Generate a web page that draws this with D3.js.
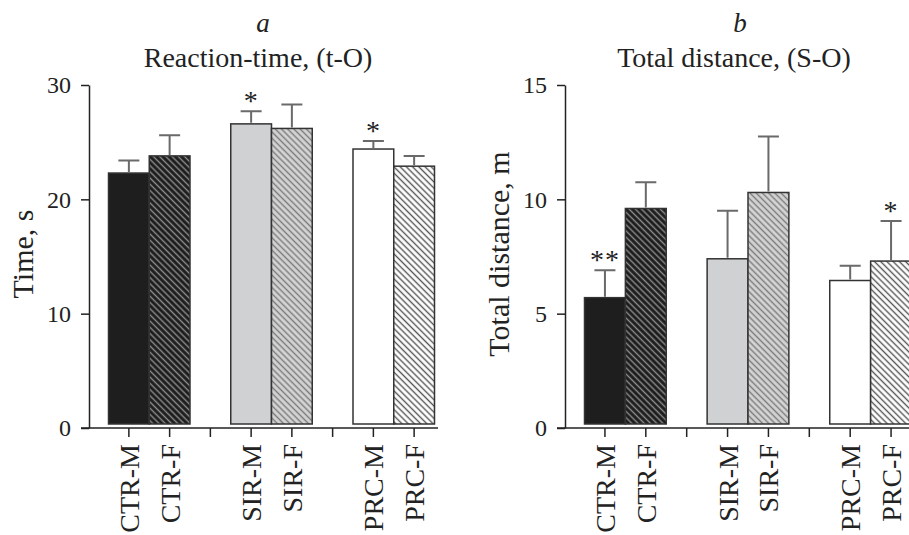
<!DOCTYPE html>
<html lang="en">
    <head>
        <meta charset="utf-8">
        <title>Reaction time and total distance</title>
        <script src="https://d3js.org/d3.v7.min.js"></script>
        <style type="text/css">
          body {
            margin: 0;
            background: #fff;
          }
          svg {
            display: block;
            font-family: "Liberation Serif", "Times New Roman", serif;
            fill: #222;
          }
          .axis-line {
            stroke: #222;
            stroke-width: 1.5;
            fill: none;
          }
          .bar {
            stroke: #333;
            stroke-width: 1.5;
          }
          .err {
            stroke: #6a6a6a;
            stroke-width: 2;
            fill: none;
          }
        </style>
    </head>
    <body>
        <script type="text/javascript">

         // groups along each x axis; the blank slots are the gaps between groups
         var slots = ["CTR-M", "CTR-F", "gap1", "SIR-M", "SIR-F", "gap2", "PRC-M", "PRC-F"];
         var groups = ["CTR-M", "CTR-F", "SIR-M", "SIR-F", "PRC-M", "PRC-F"];
         var fills = ["black", "blackHatch", "grey", "greyHatch", "white", "whiteHatch"];

         // panel a: reaction time, s (mean and upper error)
         var timeMean = [22.3, 23.8, 26.6, 26.2, 24.4, 22.9];
         var timeErr = [1.1, 1.8, 1.1, 2.1, 0.7, 0.9];
         var timeStars = ["", "", "*", "", "*", ""];
         var timeTicks = [0, 10, 20, 30];

         // panel b: total distance, m
         var distMean = [5.7, 9.6, 7.4, 10.3, 6.45, 7.3];
         var distErr = [1.2, 1.15, 2.1, 2.45, 0.65, 1.75];
         var distStars = ["**", "", "", "", "", "*"];
         var distTicks = [0, 5, 10, 15];

         var w = 909, h = 535;

         var svg = d3.select("body")
                     .append("svg")
                     .attr("width", w)
                     .attr("height", h);

         // hatch patterns
         var defs = svg.append("defs");
         function hatch(id, bg, line) {
             var p = defs.append("pattern")
                         .attr("id", id)
                         .attr("patternUnits", "userSpaceOnUse")
                         .attr("width", 4.4)
                         .attr("height", 4.4)
                         .attr("patternTransform", "rotate(45)");
             p.append("rect").attr("width", 4.4).attr("height", 4.4).attr("fill", bg);
             p.append("line")
              .attr("x1", 0).attr("x2", 4.4)
              .attr("y1", 2.2).attr("y2", 2.2)
              .attr("stroke", line)
              .attr("stroke-width", 1.4);
         }
         hatch("blackHatch", "#1c1c1c", "#8e8e8e");
         hatch("greyHatch", "#d4d4d4", "#7a7a7a");
         hatch("whiteHatch", "#ffffff", "#555");

         var solid = {black: "#1e1e1e", grey: "#d0d1d3", white: "#ffffff"};
         function fillFor(k) {
             return solid[k] ? solid[k] : "url(#" + k + ")";
         }

         function panel(opt) {
             var g = svg.append("g");

             var x = d3.scaleBand()
                       .domain(slots)
                       .range(opt.xRange)
                       .padding(0);

             var y = d3.scaleLinear()
                       .domain([0, opt.max])
                       .range([428, 85]);

             var data = groups.map(function (d, i) {
                 return {name: d, mean: opt.mean[i], err: opt.err[i], star: opt.stars[i], fill: fills[i]};
             });

             // bars sit a little above the offset x axis
             g.selectAll("rect.bar")
              .data(data)
              .enter()
              .append("rect")
              .attr("class", "bar")
              .attr("x", function (d) { return x(d.name); })
              .attr("width", x.bandwidth())
              .attr("y", function (d) { return y(d.mean); })
              .attr("height", function (d) { return y(0) - 4 - y(d.mean); })
              .attr("fill", function (d) { return fillFor(d.fill); });

             // upper error bars
             var cx = function (d) { return x(d.name) + x.bandwidth() / 2; };
             g.selectAll("path.err")
              .data(data)
              .enter()
              .append("path")
              .attr("class", "err")
              .attr("d", function (d) {
                  var c = cx(d), top = y(d.mean + d.err);
                  return "M" + c + "," + (y(d.mean) - 1) + "V" + top +
                         "M" + (c - 10.5) + "," + top + "H" + (c + 10.5);
              });

             g.selectAll("text.star")
              .data(data.filter(function (d) { return d.star; }))
              .enter()
              .append("text")
              .attr("class", "star")
              .attr("x", cx)
              .attr("y", function (d) { return y(d.mean + d.err) - 1; })
              .attr("text-anchor", "middle")
              .style("font-size", "28px")
              .style("letter-spacing", "1px")
              .text(function (d) { return d.star; });

             // y axis
             var yAxis = d3.axisLeft(y)
                           .tickValues(opt.ticks)
                           .tickSize(8)
                           .tickPadding(10)
                           .tickSizeOuter(0);
             var ya = g.append("g")
                       .attr("transform", "translate(" + opt.xAxisAt + ",0)")
                       .call(yAxis);
             ya.select(".domain").attr("class", "axis-line");
             ya.selectAll(".tick line").attr("stroke", "#222").attr("stroke-width", 1.5);
             ya.selectAll(".tick text")
               .attr("fill", "#222")
               .style("font-size", "24px")
               .style("font-family", "Liberation Serif");

             // x axis
             g.append("line")
              .attr("class", "axis-line")
              .attr("x1", opt.xAxisAt - 8)
              .attr("x2", opt.xEnd)
              .attr("y1", y(0))
              .attr("y2", y(0));

             var xAxis = d3.axisBottom(x)
                           .tickSize(9)
                           .tickSizeOuter(0)
                           .tickFormat(function (d) { return d.indexOf("gap") === 0 ? "" : d; });
             var xa = g.append("g")
                       .attr("transform", "translate(0," + y(0) + ")")
                       .call(xAxis);
             xa.select(".domain").remove();
             xa.selectAll(".tick line").attr("stroke", "#222").attr("stroke-width", 1.5);
             xa.selectAll(".tick text")
               .attr("fill", "#222")
               .style("font-size", "28px")
               .style("font-family", "Liberation Serif")
               .attr("text-anchor", "end")
               .attr("dy", null)
               .attr("transform", "rotate(-90)")
               .attr("x", -16)
               .attr("y", 10);

             // y title
             g.append("text")
              .attr("transform", "translate(" + opt.yTitleX + "," + 254 + ")rotate(-90)")
              .attr("text-anchor", "middle")
              .style("font-size", "30px")
              .text(opt.yTitle);

             // panel letter and title
             g.append("text")
              .attr("x", opt.letterX)
              .attr("y", 32)
              .attr("text-anchor", "middle")
              .style("font-size", "27px")
              .style("font-style", "italic")
              .text(opt.letter);
             g.append("text")
              .attr("x", opt.titleX)
              .attr("y", 67)
              .attr("text-anchor", "middle")
              .style("font-size", "28px")
              .text(opt.title);
         }

         panel({
             mean: timeMean, err: timeErr, stars: timeStars, ticks: timeTicks, max: 30,
             xRange: [108.5, 434.5], xAxisAt: 89, xEnd: 438,
             yTitle: "Time, s", yTitleX: 33,
             letter: "a", letterX: 263, title: "Reaction-time, (t-O)", titleX: 258
         });

         panel({
             mean: distMean, err: distErr, stars: distStars, ticks: distTicks, max: 15,
             xRange: [584.5, 911.5], xAxisAt: 565, xEnd: 909,
             yTitle: "Total distance, m", yTitleX: 509,
             letter: "b", letterX: 740, title: "Total distance, (S-O)", titleX: 734
         });

        </script>
    </body>
</html>
